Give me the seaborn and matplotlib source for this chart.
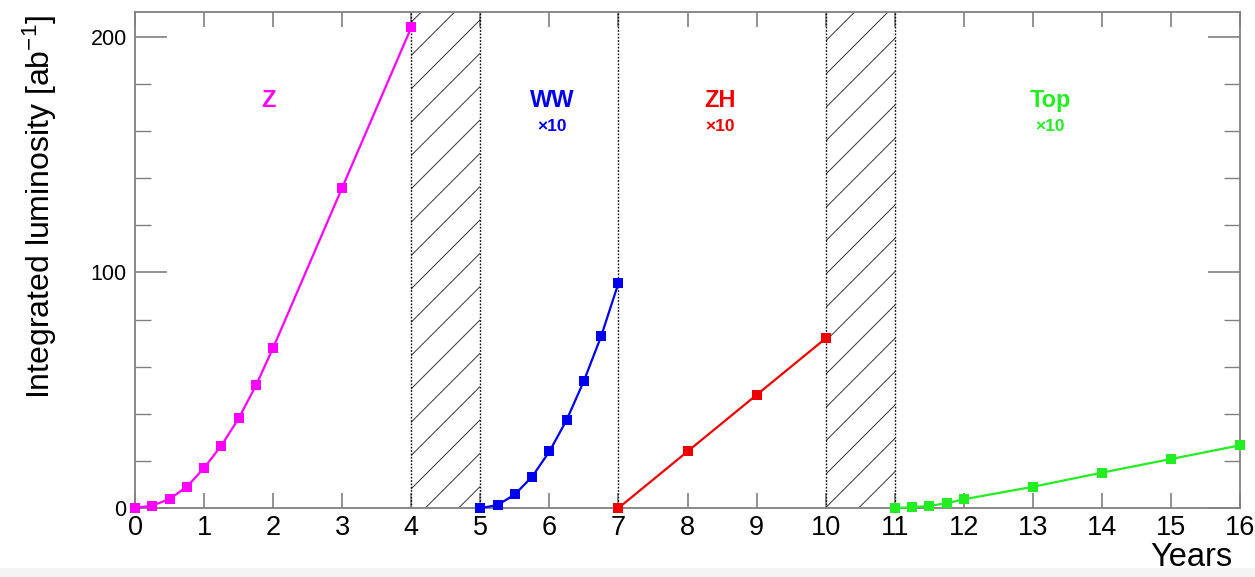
import numpy as np
import matplotlib
matplotlib.use('Agg')
import matplotlib.pyplot as plt
import seaborn as sns
from matplotlib.ticker import MultipleLocator

# data (integrated luminosity, ab^-1)
z_years = [0, 0.25, 0.5, 0.75, 1, 1.25, 1.5, 1.75, 2, 3, 4]
z_lumi = [0, 1, 3.8, 9, 17, 26.5, 38, 52, 68, 136, 204]

ww_years = [5, 5.25, 5.5, 5.75, 6, 6.25, 6.5, 6.75, 7]
ww_lumi = [0, 1.2, 5.8, 13.3, 24, 37.4, 54, 73, 95.5]

zh_years = [7, 8, 9, 10]
zh_lumi = [0, 24, 48, 72]

top_years = [11, 11.25, 11.5, 11.75, 12, 13, 14, 15, 16]
top_lumi = [0, 0.3, 0.9, 2, 3.7, 9, 15, 20.8, 26.6]

shutdowns = [(4, 5), (10, 11)]
boundaries = [4, 5, 7, 10, 11]

labels = ['Z', 'WW', 'ZH', 'Top']
label_x = [1.93, 6.04, 8.47, 13.25]
scaled = [False, True, True, True]
colors = ['#ff00ff', '#0000ee', '#ee0000', '#22ee22']

sns.set_style('ticks')
plt.rcParams['font.family'] = ['Liberation Sans', 'DejaVu Sans']
plt.rcParams['hatch.linewidth'] = 0.7
plt.rcParams['mathtext.default'] = 'regular'

fig = plt.figure(figsize=(12.55, 5.77), dpi=100)
ax = fig.add_axes([0.1076, 0.1196, 0.8805, 0.8595])

series = [(z_years, z_lumi), (ww_years, ww_lumi), (zh_years, zh_lumi), (top_years, top_lumi)]
for (xs, ys), c in zip(series, colors):
    sns.lineplot(x=xs, y=ys, ax=ax, color=c, marker='s', markersize=7.5,
                 markeredgewidth=0, linewidth=1.6, sort=False, zorder=4, clip_on=False)

for a, b in shutdowns:
    ax.axvspan(a, b, facecolor='none', edgecolor='#333333', hatch='/', linewidth=0, zorder=1)
for b in boundaries:
    ax.axvline(b, color='black', linestyle=(0, (1.2, 1.2)), linewidth=1.0, zorder=2)

for lab, lx, sc, c in zip(labels, label_x, scaled, colors):
    ax.text(lx, 173, lab, color=c, fontsize=17, fontweight='bold', ha='center', va='center')
    if sc:
        ax.text(lx, 162, '\u00d710', color=c, fontsize=12.5, fontweight='bold', ha='center', va='center')

ax.set_xlim(0, 16)
ax.set_ylim(0, 210.5)
ax.xaxis.set_major_locator(MultipleLocator(1))
ax.yaxis.set_major_locator(MultipleLocator(100))
ax.yaxis.set_minor_locator(MultipleLocator(20))
ax.tick_params(axis='x', which='major', direction='in', top=True, bottom=True,
               length=11, width=1.2, color='#808080', labelcolor='black', labelsize=19.5, pad=5)
ax.tick_params(axis='y', which='major', direction='in', left=True, right=True,
               length=23, width=1.2, color='#808080', labelcolor='black', labelsize=15.5, pad=6)
ax.tick_params(axis='y', which='minor', direction='in', left=True, right=True,
               length=11.5, width=1.0, color='#808080')
for s in ax.spines.values():
    s.set_color('#808080')
    s.set_linewidth(1.3)

ax.set_ylabel('Integrated luminosity [ab$^{-1}$]', fontsize=23, color='black')
ax.yaxis.set_label_coords(-0.069, 0.607)
ax.set_xlabel('Years', fontsize=23.5, ha='right', color='black')
ax.xaxis.set_label_coords(0.993, -0.068)

# light grey strip at the bottom edge of the screenshot
fig.patches.append(plt.Rectangle((0, 0), 1, 0.016, transform=fig.transFigure,
                                 facecolor='#f4f4f4', edgecolor='none', zorder=-1))

fig.savefig('out.png', dpi=100)
